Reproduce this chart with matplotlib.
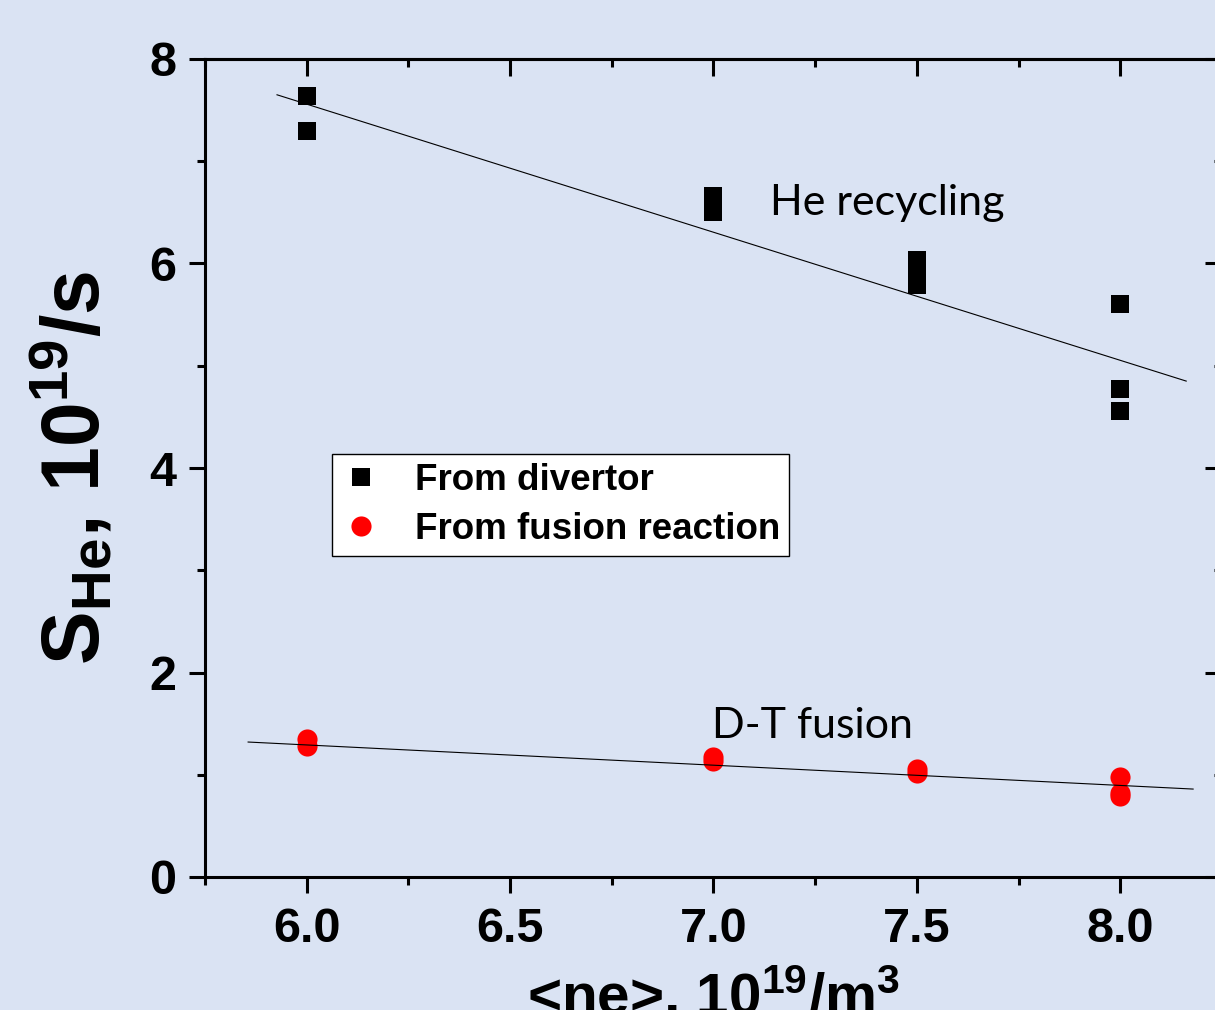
import matplotlib
matplotlib.use("Agg")
import matplotlib.pyplot as plt
from matplotlib.ticker import MultipleLocator

plt.rcParams['font.family'] = ['Liberation Sans', 'DejaVu Sans']
plt.rcParams['mathtext.fontset'] = 'custom'
plt.rcParams['mathtext.rm'] = 'Liberation Sans'
plt.rcParams['mathtext.bf'] = 'Liberation Sans:bold'
plt.rcParams['mathtext.it'] = 'Liberation Sans:italic'

# ---- data ----
div_x = [6.0, 6.0, 7.0, 7.0, 7.0, 7.5, 7.5, 7.5, 8.0, 8.0, 8.0]
div_y = [7.64, 7.30, 6.66, 6.58, 6.50, 6.03, 5.92, 5.79, 5.60, 4.77, 4.56]
fus_x = [6.0, 6.0, 7.0, 7.0, 7.5, 7.5, 8.0, 8.0, 8.0]
fus_y = [1.35, 1.28, 1.17, 1.13, 1.06, 1.02, 0.98, 0.82, 0.79]
fit_div_x = [5.927, 8.162]
fit_div_y = [7.65, 4.85]
fit_fus_x = [5.856, 8.179]
fit_fus_y = [1.32, 0.86]
xticks = [6.0, 6.5, 7.0, 7.5, 8.0]
xtick_labels = ["6.0", "6.5", "7.0", "7.5", "8.0"]
yticks = [0, 2, 4, 6, 8]
ytick_labels = ["0", "2", "4", "6", "8"]

bg = '#DAE3F3'
W, H = 1215, 1010
fig = plt.figure(figsize=(W/100, H/100), dpi=100, facecolor=bg)
ax = fig.add_axes([205/W, 1-877/H, (1222-205)/W, (877-59)/H])
ax.set_facecolor(bg)

ax.plot(fit_div_x, fit_div_y, color='black', lw=0.8, zorder=2)
ax.plot(fit_fus_x, fit_fus_y, color='black', lw=0.8, zorder=4)
ax.plot(div_x, div_y, ls='none', marker='s', ms=13, color='black', mew=0,
        label='From divertor', zorder=3)
ax.plot(fus_x, fus_y, ls='none', marker='o', ms=14.5, color='#FF0000', mew=0,
        label='From fusion reaction', zorder=3)

ax.set_xlim(5.75, 8.25)
ax.set_ylim(0, 8)
ax.set_xticks(xticks)
ax.set_xticklabels(xtick_labels)
ax.set_yticks(yticks)
ax.set_yticklabels(ytick_labels)
ax.xaxis.set_minor_locator(MultipleLocator(0.25))
ax.yaxis.set_minor_locator(MultipleLocator(1))

for s in ax.spines.values():
    s.set_linewidth(2.2)

ax.tick_params(axis='both', which='major', length=11.5, width=2.2, labelsize=35)
ax.tick_params(axis='both', which='minor', length=5.5, width=2.2)
ax.tick_params(axis='x', which='both', direction='out', top=False, pad=10)
ax.tick_params(axis='y', which='both', direction='out', right=False, pad=9)
for lab in ax.get_xticklabels() + ax.get_yticklabels():
    lab.set_fontweight('bold')

# inward ticks on top and right
axt = ax.secondary_xaxis('top')
axt.set_xticks(xticks)
axt.xaxis.set_minor_locator(MultipleLocator(0.25))
axt.tick_params(which='major', direction='in', length=12, width=2.2, labeltop=False)
axt.tick_params(which='minor', direction='in', length=6, width=2.2)
axt.spines['top'].set_linewidth(2.2)
axr = ax.secondary_yaxis('right')
axr.set_yticks(yticks)
axr.yaxis.set_minor_locator(MultipleLocator(1))
axr.tick_params(which='major', direction='in', length=12, width=2.2, labelright=False)
axr.tick_params(which='minor', direction='in', length=6, width=2.2)
axr.spines['right'].set_linewidth(2.2)

ax.set_xlabel(r'<ne>, 10$^{\mathbf{19}}$/m$^{\mathbf{3}}$', fontsize=42, fontweight='bold', labelpad=9)
ax.set_ylabel(r'S$_{\mathbf{He}}$, 10$^{\mathbf{19}}$/s', fontsize=58, fontweight='bold', labelpad=24)

ax.text(770/W, 1-215/H, 'He recycling', transform=fig.transFigure, fontsize=31,
        family=['Lato', 'DejaVu Sans'], ha='left', va='baseline')
ax.text(712/W, 1-738/H, 'D-T fusion', transform=fig.transFigure, fontsize=31,
        family=['Lato', 'DejaVu Sans'], ha='left', va='baseline')

leg = ax.legend(loc='upper left', bbox_to_anchor=(332/W, 1-454/H),
                bbox_transform=fig.transFigure, frameon=True, fancybox=False,
                edgecolor='black', facecolor='white', framealpha=1,
                prop={'weight': 'bold', 'size': 26.5}, handlelength=1.1,
                handletextpad=0.9, borderpad=0.25, labelspacing=0.38,
                borderaxespad=0, markerscale=1.0)
leg.get_frame().set_linewidth(1.0)

fig.savefig('out.png', dpi=100, facecolor=bg)
